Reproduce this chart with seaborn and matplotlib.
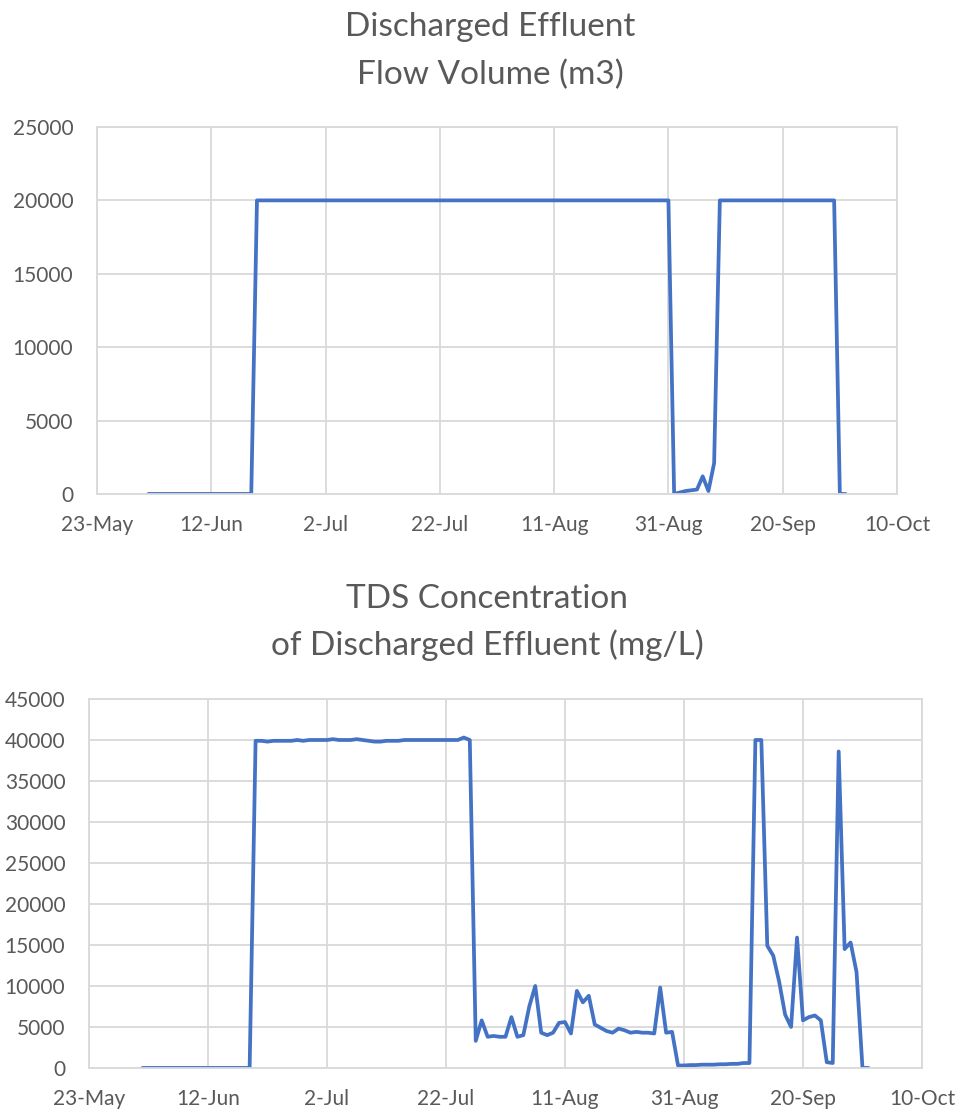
import matplotlib
matplotlib.use("Agg")
import matplotlib.pyplot as plt
import pandas as pd
import seaborn as sns

# Daily readings, 1 Jun to 1 Oct
first_day = "2021-06-01"

flow_m3 = [
    0, 0, 0, 0, 0, 0, 0, 0, 0, 0, 0, 0, 0, 0, 0, 0, 0, 0, 0,
    20000, 20000, 20000, 20000, 20000, 20000, 20000, 20000, 20000, 20000,
    20000, 20000, 20000, 20000, 20000, 20000, 20000, 20000, 20000, 20000,
    20000, 20000, 20000, 20000, 20000, 20000, 20000, 20000, 20000, 20000,
    20000, 20000, 20000, 20000, 20000, 20000, 20000, 20000, 20000, 20000,
    20000, 20000, 20000, 20000, 20000, 20000, 20000, 20000, 20000, 20000,
    20000, 20000, 20000, 20000, 20000, 20000, 20000, 20000, 20000, 20000,
    20000, 20000, 20000, 20000, 20000, 20000, 20000, 20000, 20000, 20000,
    20000, 20000, 20000,
    0, 100, 200, 250, 300, 1200, 200, 2100,
    20000, 20000, 20000, 20000, 20000, 20000, 20000, 20000, 20000, 20000,
    20000, 20000, 20000, 20000, 20000, 20000, 20000, 20000, 20000, 20000,
    20000,
    0, 0,
]

tds_mg_l = [
    0, 0, 0, 0, 0, 0, 0, 0, 0, 0, 0, 0, 0, 0, 0, 0, 0, 0, 0,
    39900, 39900, 39800, 39900, 39900, 39900, 39900, 40000, 39900, 40000,
    40000, 40000, 40000, 40100, 40000, 40000, 40000, 40100, 40000, 39900,
    39800, 39800, 39900, 39900, 39900, 40000, 40000, 40000, 40000, 40000,
    40000, 40000, 40000, 40000, 40000, 40300, 40000,
    3300, 5800, 3800, 3900, 3800, 3800, 6200, 3800, 4000, 7500,
    10000, 4300, 4000, 4300, 5500, 5600, 4200, 9400, 8000, 8800,
    5300, 4900, 4500, 4300, 4800, 4600, 4300, 4400, 4300, 4300,
    4200, 9800, 4300, 4400,
    300, 300, 350, 350, 400, 400, 400, 450, 450, 500, 500, 600, 600,
    40000, 40000, 14900, 13700, 10500, 6500, 5000, 15900, 5800, 6200,
    6400, 5800, 700, 600, 38600, 14500, 15300, 11700, 0, 0,
]

tick_dates = ["2021-05-23", "2021-06-12", "2021-07-02", "2021-07-22",
              "2021-08-11", "2021-08-31", "2021-09-20", "2021-10-10"]
tick_labels = ["23-May", "12-Jun", "2-Jul", "22-Jul",
               "11-Aug", "31-Aug", "20-Sep", "10-Oct"]

flow_title = ["Discharged Effluent", "Flow Volume (m3)"]
tds_title = ["TDS Concentration", "of Discharged Effluent (mg/L)"]

dates = pd.date_range(first_day, periods=len(flow_m3), freq="D")
df = pd.DataFrame({"date": dates, "flow": flow_m3, "tds": tds_mg_l})

sns.set_theme(style="white")
plt.rcParams["font.family"] = ["Lato", "DejaVu Sans"]

LINE = "#4472C4"
GRID = "#D9D9D9"
TEXT = "#595959"

fig = plt.figure(figsize=(9.61, 11.15), dpi=100)
ax1 = fig.add_axes([0.1009, 0.5570, 0.8325, 0.3291])
ax2 = fig.add_axes([0.0926, 0.0422, 0.8668, 0.3309])

tick_pos = pd.to_datetime(tick_dates)


def style_axes(ax, ymax, ystep):
    ax.set_xlim(tick_pos[0], tick_pos[-1])
    ax.set_ylim(0, ymax)
    ax.set_xticks(tick_pos)
    ax.set_xticklabels(tick_labels)
    ax.set_yticks(range(0, ymax + 1, ystep))
    ax.set_yticklabels([str(v) for v in range(0, ymax + 1, ystep)])
    ax.grid(True, color=GRID, linewidth=1.3)
    ax.set_axisbelow(True)
    for s in ax.spines.values():
        s.set_color(GRID)
        s.set_linewidth(1.3)
    ax.tick_params(axis="both", length=0, labelsize=15, colors=TEXT)
    ax.tick_params(axis="y", pad=17)
    ax.tick_params(axis="x", pad=15)
    ax.set_xlabel("")
    ax.set_ylabel("")


sns.lineplot(data=df, x="date", y="flow", ax=ax1, color=LINE, linewidth=2.7,
             solid_joinstyle="round", solid_capstyle="round")
style_axes(ax1, 25000, 5000)

sns.lineplot(data=df, x="date", y="tds", ax=ax2, color=LINE, linewidth=2.7,
             solid_joinstyle="round", solid_capstyle="round")
style_axes(ax2, 45000, 5000)

H = 1115.0
W = 961.0
for text, y in zip(flow_title, [27, 75]):
    fig.text(490 / W, 1 - y / H, text, ha="center", va="center",
             fontsize=24, color=TEXT)
for text, y in zip(tds_title, [599, 645]):
    fig.text(487 / W, 1 - y / H, text, ha="center", va="center",
             fontsize=24, color=TEXT)

fig.savefig("out.png", dpi=100, facecolor="white")
